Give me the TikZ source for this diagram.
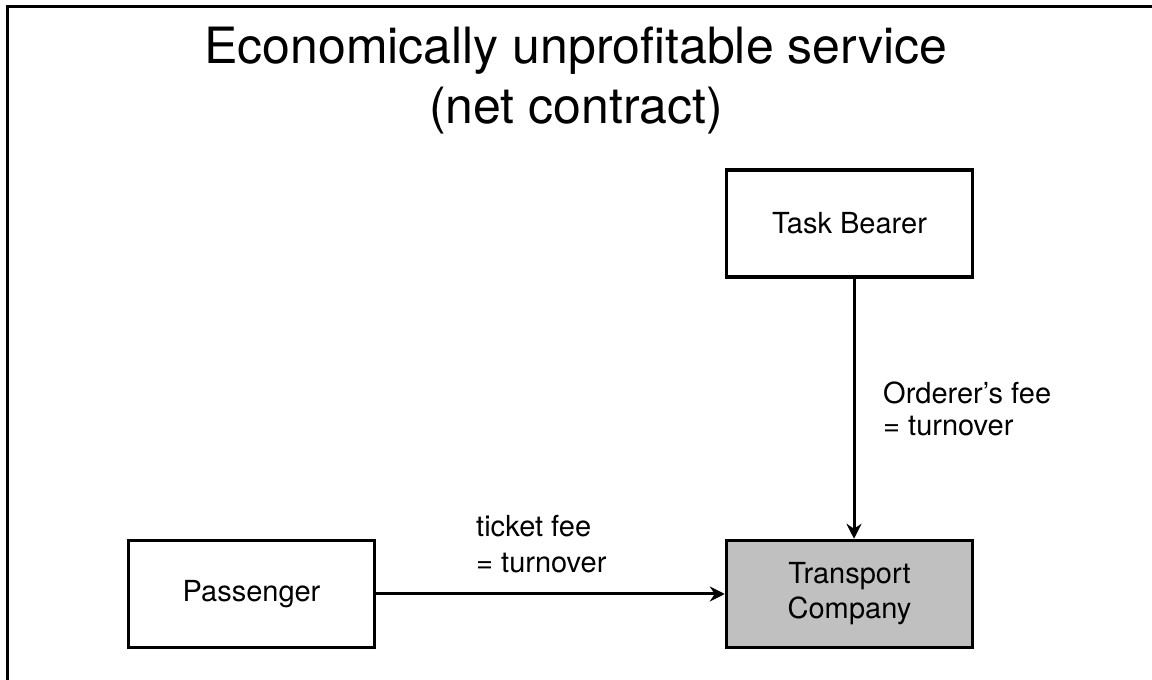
\documentclass[tikz,border=0pt]{standalone}
\usepackage{fontspec}
\setmainfont{TeX Gyre Heros}
\usetikzlibrary{arrows.meta}
\begin{document}
\begin{tikzpicture}[x=1pt,y=1pt,
  box/.style={draw=black,line width=3.5pt,minimum width=246pt,minimum height=107pt,inner sep=0pt,align=center,font=\fontsize{29}{35}\selectfont},
  lbl/.style={anchor=base west,inner sep=0pt,font=\fontsize{29}{34}\selectfont},
  ttl/.style={anchor=base,inner sep=0pt,font=\fontsize{50}{60}\selectfont},
  conn/.style={line width=3pt,-{Stealth[length=15pt,width=15pt,inset=5pt]}}]
\useasboundingbox (0,0) rectangle (1152,680);
\coordinate (fa) at (7,0);
\coordinate (fb) at (7,673);
\coordinate (fc) at (1152,673);
\draw[line width=3pt] (fa) -- (fb) -- (fc);
\node[ttl] (t1) at (576,680-64) {Economically unprofitable service};
\node[ttl] (t2) at (576,680-124) {(net contract)};
\node[box] (tb) at (849.5,680-223.5) {Task Bearer};
\node[box,fill={rgb,255:red,192;green,192;blue,192}] (tc) at (849.5,680-594) {Transport\\Company};
\node[box] (ps) at (251.5,680-594) {Passenger};
\draw[conn] ([xshift=4.5pt]tb.south) -- ([xshift=4.5pt]tc.north);
\draw[conn] (ps.east) -- (tc.west);
\node[lbl] (o1) at (883,680-404) {Orderer’s fee};
\node[lbl] (o2) at (883,680-436) {= turnover};
\node[lbl] (k1) at (476,680-537) {ticket fee};
\node[lbl] (k2) at (476,680-573) {= turnover};
\end{tikzpicture}
\end{document}
